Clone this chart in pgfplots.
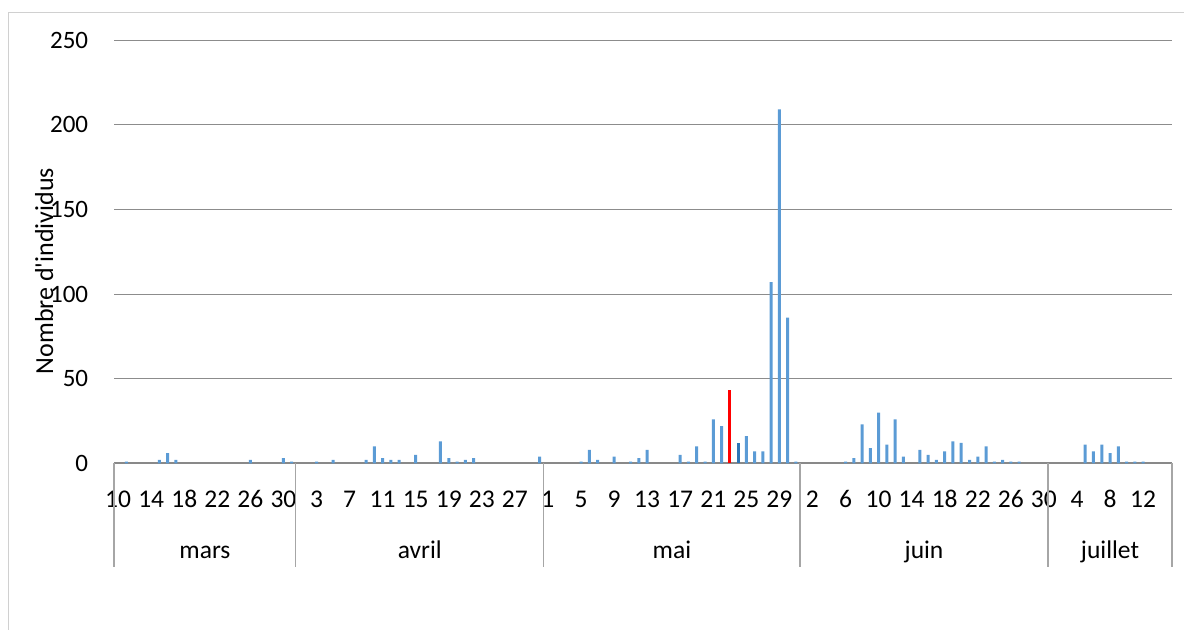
\documentclass[border=0pt]{standalone}
\usepackage{fontspec}
\setmainfont{Carlito}
\usepackage{pgfplots}
\usepackage{pgfplotstable}
\pgfplotsset{compat=1.18}
\definecolor{barblue}{HTML}{5B9BD5}
\definecolor{bardark}{HTML}{2E75B6}
\definecolor{gridgray}{HTML}{8C8C8C}
\definecolor{axisgray}{HTML}{898989}
\definecolor{framegray}{HTML}{D0D0D0}
\definecolor{sepgray}{HTML}{A6A6A6}

% day index: 0 = 10 mars, 22 = 1 avril, 52 = 1 mai, 83 = 1 juin, 113 = 1 juillet
\pgfplotstableread{
x y
1 1
5 2
6 6
7 2
16 2
20 3
21 1
24 1
26 2
30 2
31 10
32 3
33 2
34 2
36 5
39 13
40 3
41 1
42 2
43 3
51 4
56 1
57 8
58 2
60 4
62 1
63 3
64 8
68 5
69 1
70 10
71 1
72 26
73 22
76 16
77 7
78 7
79 107
80 209
81 86
82 1
88 1
89 3
90 23
91 9
92 30
93 11
94 26
95 4
97 8
98 5
99 2
100 7
101 13
102 12
103 2
104 4
105 10
106 1
107 2
108 1
109 1
117 11
118 7
119 11
120 6
121 10
122 1
123 1
124 1
}\maindata

\begin{document}
\begin{tikzpicture}
\path[use as bounding box] (0,0) rectangle (1184bp,630bp);
\draw[framegray, line width=1bp] (8bp,0) -- (8bp,617bp) -- (1184bp,617bp);
\begin{axis}[
  scale only axis,
  width=1058bp, height=423.3bp,
  at={(114bp,166.7bp)}, anchor=south west,
  xmin=-0.5, xmax=127.5, ymin=0, ymax=250,
  enlargelimits=false,
  axis x line*=bottom, axis y line*=left,
  x axis line style={axisgray, line width=2bp},
  y axis line style={draw=none},
  major tick length=0pt,
  xtick={0,4,...,124},
  xticklabels={10,14,18,22,26,30,3,7,11,15,19,23,27,1,5,9,13,17,21,25,29,2,6,10,14,18,22,26,30,4,8,12},
  ytick={0,50,...,250},
  ymajorgrids,
  grid style={gridgray, line width=0.9bp},
  /pgf/number format/assume math mode=true,
  xticklabel style={anchor=base, inner sep=0pt, yshift=-44bp, font=\fontsize{25.5bp}{30bp}\selectfont},
  yticklabel style={anchor=east, inner sep=0pt, xshift=-25.7bp, font=\fontsize{25bp}{30bp}\selectfont},
  clip=false,
]
\addplot[ybar, bar width=3bp, bar shift=0pt, fill=barblue, draw=none] table[x=x,y=y] {\maindata};
\addplot[ybar, bar width=3bp, bar shift=0pt, fill=red, draw=none] coordinates {(74,43)};
\addplot[ybar, bar width=3bp, bar shift=0pt, fill=bardark, draw=none] coordinates {(75,12)};
\foreach \s in {-0.5,21.5,51.5,82.5,112.5,127.5} {
  \edef\temp{\noexpand\draw[sepgray, line width=1.3bp] (axis cs:\s,0) -- ([yshift=-103.4bp]axis cs:\s,0);}
  \temp
}
\node[anchor=base, font=\fontsize{25.5bp}{30bp}\selectfont] at ([yshift=-95bp]axis cs:10.5,0) {mars};
\node[anchor=base, font=\fontsize{25.5bp}{30bp}\selectfont] at ([yshift=-95bp]axis cs:36.5,0) {avril};
\node[anchor=base, font=\fontsize{25.5bp}{30bp}\selectfont] at ([yshift=-95bp]axis cs:67,0) {mai};
\node[anchor=base, font=\fontsize{25.5bp}{30bp}\selectfont] at ([yshift=-95bp]axis cs:97.5,0) {juin};
\node[anchor=base, font=\fontsize{25.5bp}{30bp}\selectfont] at ([yshift=-95bp]axis cs:120,0) {juillet};
\end{axis}
\node[rotate=90, anchor=base, inner sep=0pt, font=\fontsize{26bp}{31bp}\selectfont] at (53bp,359bp) {Nombre d\textquotesingle individus};
\end{tikzpicture}
\end{document}
